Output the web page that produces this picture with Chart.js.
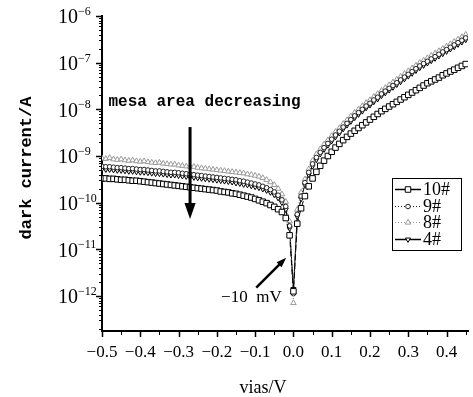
<!DOCTYPE html>
<html>
<head>
<meta charset="utf-8">
<script src="https://cdn.jsdelivr.net/npm/chart.js@4.4.0/dist/chart.umd.min.js"></script>
<style>
  html, body { margin: 0; padding: 0; background: #fff; }
</style>
</head>
<body>
<canvas id="darkChart" width="473" height="397"></canvas>
<script>
// ================= data =================
// bias voltage, V
const bias = [
  -0.50, -0.49, -0.48, -0.47, -0.46, -0.45, -0.44, -0.43, -0.42, -0.41,
  -0.40, -0.39, -0.38, -0.37, -0.36, -0.35, -0.34, -0.33, -0.32, -0.31,
  -0.30, -0.29, -0.28, -0.27, -0.26, -0.25, -0.24, -0.23, -0.22, -0.21,
  -0.20, -0.19, -0.18, -0.17, -0.16, -0.15, -0.14, -0.13, -0.12, -0.11,
  -0.10, -0.09, -0.08, -0.07, -0.06, -0.05, -0.04, -0.03, -0.02, -0.01,
  0.00,
  0.01, 0.02, 0.03, 0.04, 0.05, 0.06, 0.07, 0.08, 0.09, 0.10,
  0.11, 0.12, 0.13, 0.14, 0.15, 0.16, 0.17, 0.18, 0.19, 0.20,
  0.21, 0.22, 0.23, 0.24, 0.25, 0.26, 0.27, 0.28, 0.29, 0.30,
  0.31, 0.32, 0.33, 0.34, 0.35, 0.36, 0.37, 0.38, 0.39, 0.40,
  0.41, 0.42, 0.43, 0.44, 0.45
];

// dark current, read as log10(I / A)
const log10n = [
  -9.48, -9.48, -9.49, -9.49, -9.50, -9.51, -9.51, -9.52, -9.53, -9.53,
  -9.54, -9.55, -9.56, -9.57, -9.58, -9.59, -9.60, -9.61, -9.62, -9.63,
  -9.64, -9.65, -9.66, -9.67, -9.68, -9.69, -9.70, -9.71, -9.72, -9.73,
  -9.74, -9.76, -9.77, -9.78, -9.80, -9.81, -9.83, -9.85, -9.87, -9.89,
  -9.92, -9.95, -9.98, -10.01, -10.05, -10.09, -10.14, -10.20, -10.33, -10.70,
  -11.90,
  -10.45, -10.12, -9.86, -9.65, -9.48, -9.34, -9.21, -9.10, -9.00, -8.91,
  -8.82, -8.74, -8.66, -8.59, -8.52, -8.46, -8.40, -8.34, -8.28, -8.22,
  -8.16, -8.10, -8.04, -7.99, -7.94, -7.89, -7.84, -7.79, -7.74, -7.69,
  -7.64, -7.59, -7.54, -7.49, -7.44, -7.40, -7.36, -7.32, -7.27, -7.23,
  -7.19, -7.15, -7.11, -7.07, -7.03
];
const log9n = [
  -9.22, -9.23, -9.23, -9.24, -9.25, -9.25, -9.26, -9.27, -9.27, -9.28,
  -9.29, -9.29, -9.30, -9.31, -9.32, -9.32, -9.33, -9.34, -9.35, -9.35,
  -9.36, -9.37, -9.38, -9.39, -9.40, -9.41, -9.42, -9.43, -9.44, -9.45,
  -9.46, -9.47, -9.48, -9.49, -9.50, -9.51, -9.53, -9.54, -9.56, -9.58,
  -9.60, -9.62, -9.65, -9.68, -9.72, -9.77, -9.84, -9.94, -10.08, -10.50,
  -11.95,
  -10.25, -9.86, -9.57, -9.35, -9.17, -9.03, -8.92, -8.82, -8.73, -8.64,
  -8.55, -8.47, -8.38, -8.30, -8.22, -8.14, -8.07, -8.00, -7.93, -7.87,
  -7.80, -7.74, -7.67, -7.61, -7.55, -7.49, -7.43, -7.37, -7.31, -7.25,
  -7.19, -7.13, -7.07, -7.02, -6.97, -6.92, -6.87, -6.82, -6.77, -6.72,
  -6.67, -6.62, -6.57, -6.52, -6.47
];
const log8n = [
  -9.05, -9.06, -9.04, -9.07, -9.08, -9.07, -9.09, -9.10, -9.09, -9.11,
  -9.12, -9.11, -9.13, -9.14, -9.15, -9.14, -9.16, -9.17, -9.18, -9.18,
  -9.20, -9.21, -9.22, -9.23, -9.23, -9.25, -9.26, -9.27, -9.28, -9.29,
  -9.30, -9.31, -9.32, -9.33, -9.34, -9.35, -9.36, -9.37, -9.39, -9.40,
  -9.42, -9.44, -9.47, -9.51, -9.56, -9.62, -9.70, -9.82, -9.98, -10.40,
  -12.15,
  -10.15, -9.78, -9.50, -9.28, -9.10, -8.96, -8.85, -8.75, -8.66, -8.57,
  -8.48, -8.40, -8.31, -8.23, -8.15, -8.07, -8.00, -7.93, -7.86, -7.80,
  -7.73, -7.67, -7.60, -7.54, -7.48, -7.42, -7.36, -7.30, -7.24, -7.18,
  -7.12, -7.06, -7.00, -6.95, -6.90, -6.85, -6.80, -6.75, -6.70, -6.65,
  -6.60, -6.55, -6.50, -6.45, -6.40
];
const log4n = [
  -9.28, -9.29, -9.29, -9.30, -9.31, -9.31, -9.32, -9.33, -9.33, -9.34,
  -9.35, -9.35, -9.36, -9.37, -9.38, -9.38, -9.39, -9.40, -9.41, -9.41,
  -9.42, -9.43, -9.44, -9.45, -9.46, -9.47, -9.48, -9.49, -9.50, -9.51,
  -9.52, -9.53, -9.54, -9.55, -9.56, -9.58, -9.59, -9.61, -9.62, -9.64,
  -9.66, -9.68, -9.71, -9.74, -9.78, -9.83, -9.90, -10.00, -10.15, -10.55,
  -11.85,
  -10.30, -9.92, -9.62, -9.40, -9.22, -9.08, -8.96, -8.86, -8.77, -8.68,
  -8.59, -8.51, -8.42, -8.34, -8.26, -8.18, -8.11, -8.04, -7.97, -7.91,
  -7.84, -7.78, -7.71, -7.65, -7.59, -7.53, -7.47, -7.41, -7.35, -7.29,
  -7.23, -7.17, -7.11, -7.06, -7.01, -6.96, -6.91, -6.86, -6.81, -6.76,
  -6.71, -6.66, -6.61, -6.56, -6.51
];

const seriesNames = ['10#', '9#', '8#', '4#'];

// axis ticks
const xTicks = [-0.5, -0.4, -0.3, -0.2, -0.1, 0.0, 0.1, 0.2, 0.3, 0.4];
const xTickLabels = ['\u22120.5', '\u22120.4', '\u22120.3', '\u22120.2', '\u22120.1', '0.0', '0.1', '0.2', '0.3', '0.4'];
const xMinorTicks = [-0.45, -0.35, -0.25, -0.15, -0.05, 0.05, 0.15, 0.25, 0.35, 0.45];
const yDecades = [-12, -11, -10, -9, -8, -7, -6];
const yTickSup = ['\u221212', '\u221211', '\u221210', '\u22129', '\u22128', '\u22127', '\u22126'];

// =================build points=================
function toPoints(logs) {
  return bias.map((v, i) => ({ x: v, y: Math.pow(10, logs[i]) }));
}

const styles = [
  { color: '#000', dash: [6, 3], width: 1, point: 'rect', radius: 3.9, rot: 0 },
  { color: '#222', dash: [1, 2], width: 1, point: 'circle', radius: 2.3, rot: 0 },
  { color: '#9a9a9a', dash: [1, 2], width: 1, point: 'triangle', radius: 3.2, rot: 0 },
  { color: '#000', dash: [], width: 1, point: 'triangle', radius: 2.9, rot: 180 }
];
const seriesLogs = [log10n, log9n, log8n, log4n];

const datasets = seriesNames.map((name, i) => ({
  label: name,
  data: toPoints(seriesLogs[i]),
  borderColor: styles[i].color,
  borderWidth: styles[i].width,
  borderDash: styles[i].dash,
  pointStyle: styles[i].point,
  pointRotation: styles[i].rot,
  pointRadius: styles[i].radius,
  pointBorderColor: styles[i].color,
  pointBackgroundColor: '#fff',
  pointBorderWidth: 1,
  tension: 0
}));

// =================marker helper for the legend=================
function marker(ctx, st, x, y) {
  const r = st.radius;
  ctx.beginPath();
  if (st.point === 'rect') {
    const s = Math.SQRT1_2 * r;
    ctx.rect(x - s, y - s, 2 * s, 2 * s);
  } else if (st.point === 'circle') {
    ctx.arc(x, y, r, 0, Math.PI * 2);
  } else {
    let a = st.rot * Math.PI / 180;
    ctx.moveTo(x + Math.sin(a) * r, y - Math.cos(a) * r);
    a += 2 * Math.PI / 3;
    ctx.lineTo(x + Math.sin(a) * r, y - Math.cos(a) * r);
    a += 2 * Math.PI / 3;
    ctx.lineTo(x + Math.sin(a) * r, y - Math.cos(a) * r);
    ctx.closePath();
  }
  ctx.fillStyle = '#fff';
  ctx.fill();
  ctx.setLineDash([]);
  ctx.lineWidth = 1;
  ctx.strokeStyle = st.color;
  ctx.stroke();
}

function arrow(ctx, x1, y1, x2, y2, w, head) {
  const a = Math.atan2(y2 - y1, x2 - x1);
  ctx.save();
  ctx.strokeStyle = '#000';
  ctx.fillStyle = '#000';
  ctx.lineWidth = w;
  ctx.beginPath();
  ctx.moveTo(x1, y1);
  ctx.lineTo(x2 - Math.cos(a) * head * 0.8, y2 - Math.sin(a) * head * 0.8);
  ctx.stroke();
  ctx.beginPath();
  ctx.moveTo(x2, y2);
  ctx.lineTo(x2 - Math.cos(a) * head - Math.sin(a) * head * 0.35, y2 - Math.sin(a) * head + Math.cos(a) * head * 0.35);
  ctx.lineTo(x2 - Math.cos(a) * head + Math.sin(a) * head * 0.35, y2 - Math.sin(a) * head - Math.cos(a) * head * 0.35);
  ctx.closePath();
  ctx.fill();
  ctx.restore();
}

// ===== axes decorations, labels, legend =====
const decorPlugin = {
  id: 'decor',
  afterDraw(chart) {
    const ctx = chart.ctx;
    const xs = chart.scales.x;
    const ys = chart.scales.y;
    const area = chart.chartArea;
    ctx.save();
    ctx.strokeStyle = '#000';
    ctx.fillStyle = '#000';
    ctx.setLineDash([]);

    // x ticks (outward, below the axis)
    ctx.lineWidth = 1.5;
    xTicks.forEach(v => {
      const px = Math.round(xs.getPixelForValue(v)) + 0.5;
      ctx.beginPath(); ctx.moveTo(px, area.bottom); ctx.lineTo(px, area.bottom + 6); ctx.stroke();
    });
    ctx.lineWidth = 1;
    xMinorTicks.forEach(v => {
      const px = Math.round(xs.getPixelForValue(v)) + 0.5;
      ctx.beginPath(); ctx.moveTo(px, area.bottom); ctx.lineTo(px, area.bottom + 4); ctx.stroke();
    });

    // y ticks (outward, left of the axis)
    ctx.lineWidth = 1.5;
    yDecades.forEach(e => {
      const py = Math.round(ys.getPixelForValue(Math.pow(10, e))) + 0.5;
      ctx.beginPath(); ctx.moveTo(area.left, py); ctx.lineTo(area.left - 6, py); ctx.stroke();
    });
    ctx.lineWidth = 1;
    for (let e = -13; e <= -7; e++) {
      for (let m = 2; m <= 9; m++) {
        const v = m * Math.pow(10, e);
        if (v < ys.min || v > ys.max) continue;
        const py = Math.round(ys.getPixelForValue(v)) + 0.5;
        ctx.beginPath(); ctx.moveTo(area.left, py); ctx.lineTo(area.left - 3, py); ctx.stroke();
      }
    }

    // y tick labels 10^n
    yDecades.forEach((e, i) => {
      const py = ys.getPixelForValue(Math.pow(10, e));
      ctx.textAlign = 'left';
      ctx.textBaseline = 'middle';
      ctx.font = '20px "Liberation Serif", serif';
      ctx.fillText('10', 58, py + 2);
      ctx.font = '12px "Liberation Serif", serif';
      ctx.fillText(yTickSup[i], 78, py - 4);
    });

    // axis titles
    ctx.save();
    ctx.translate(27, 168);
    ctx.rotate(-Math.PI / 2);
    ctx.font = 'bold 17px "Liberation Mono", monospace';
    ctx.textAlign = 'center';
    ctx.textBaseline = 'middle';
    ctx.fillText('dark current/A', 0, 0);
    ctx.restore();

    ctx.font = '18px "Liberation Serif", serif';
    ctx.textAlign = 'center';
    ctx.textBaseline = 'alphabetic';
    ctx.fillText('vias/V', 263, 393);

    // annotation: mesa area decreasing
    ctx.font = 'bold 16px "Liberation Mono", monospace';
    ctx.textAlign = 'left';
    ctx.fillText('mesa area decreasing', xs.getPixelForValue(-0.483), ys.getPixelForValue(Math.pow(10, -7.93)));
    const ax = xs.getPixelForValue(-0.27);
    arrow(ctx, ax, ys.getPixelForValue(Math.pow(10, -8.38)), ax, ys.getPixelForValue(Math.pow(10, -10.35)), 3, 16);

    // annotation: -10 mV
    ctx.font = '17px "Liberation Serif", serif';
    ctx.fillText('\u221210  mV', xs.getPixelForValue(-0.189), ys.getPixelForValue(Math.pow(10, -12.13)));
    arrow(ctx, xs.getPixelForValue(-0.097), ys.getPixelForValue(Math.pow(10, -11.82)),
      xs.getPixelForValue(-0.019), ys.getPixelForValue(Math.pow(10, -11.18)), 2.5, 10);

    // legend box
    ctx.lineWidth = 1;
    ctx.strokeStyle = '#000';
    ctx.strokeRect(392.5, 178.5, 69, 72);
    const rowY = [189, 206, 222, 239];
    seriesNames.forEach((name, i) => {
      const st = styles[i];
      const y = rowY[i];
      ctx.strokeStyle = st.color;
      ctx.lineWidth = i === 0 || i === 3 ? 1.5 : 1;
      ctx.setLineDash(st.dash.length ? (i === 0 ? [] : st.dash) : []);
      ctx.beginPath(); ctx.moveTo(395, y + 0.5); ctx.lineTo(421, y + 0.5); ctx.stroke();
      marker(ctx, st, 408, y + 0.5);
      ctx.fillStyle = '#000';
      ctx.font = '18px "Liberation Serif", serif';
      ctx.textAlign = 'left';
      ctx.textBaseline = 'middle';
      ctx.fillText(name, 423, y + 1);
    });

    ctx.restore();
  }
};

// ================= chart =================
const darkChart = new Chart(document.getElementById('darkChart'), {
  type: 'line',
  data: { datasets: datasets },
  options: {
    responsive: false,
    animation: false,
    layout: { padding: { left: 0, right: 0, top: 16, bottom: 0 } },
    plugins: {
      legend: { display: false },
      tooltip: { enabled: false }
    },
    scales: {
      x: {
        type: 'linear',
        bounds: 'data',
        min: -0.5,
        max: 0.456,
        afterBuildTicks: s => { s.ticks = xTicks.map(v => ({ value: v })); },
        afterFit: s => { s.height = 66; },
        grid: { display: false, drawTicks: false },
        border: { display: true, color: '#000', width: 2 },
        ticks: {
          padding: 11,
          color: '#000',
          autoSkip: false,
          maxRotation: 0,
          font: { family: '"Liberation Serif", serif', size: 17 },
          callback: (v, i) => xTickLabels[i]
        }
      },
      y: {
        type: 'logarithmic',
        bounds: 'data',
        min: Math.pow(10, -12.75),
        max: 1e-6,
        afterBuildTicks: s => { s.ticks = yDecades.map(e => ({ value: Math.pow(10, e) })); },
        afterFit: s => { s.width = 102; },
        grid: { display: false, drawTicks: false },
        border: { display: true, color: '#000', width: 2 },
        ticks: { display: false }
      }
    }
  },
  plugins: [decorPlugin]
});
</script>
</body>
</html>
